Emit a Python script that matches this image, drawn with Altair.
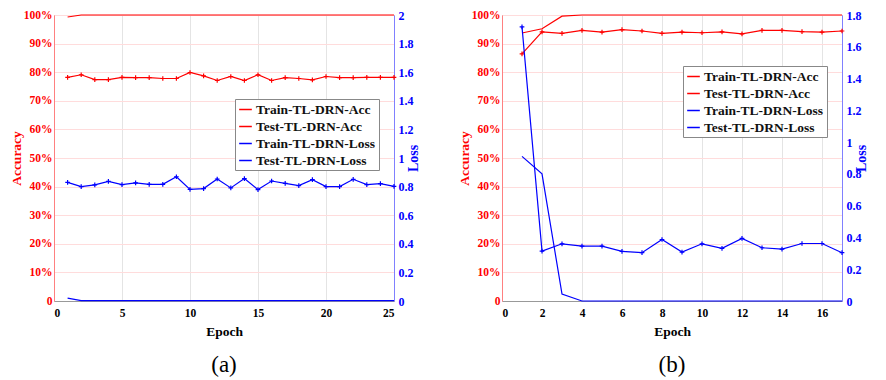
import altair as alt
import pandas as pd

SERIES = ["Train-TL-DRN-Acc", "Test-TL-DRN-Acc", "Train-TL-DRN-Loss", "Test-TL-DRN-Loss"]
COLORS = ["#ff0000", "#ff0000", "#0000ff", "#0000ff"]

# ---------- panel (a) ----------
epochs_a = [1, 2, 3, 4, 5, 6, 7, 8, 9, 10, 11, 12, 13, 14, 15, 16, 17, 18, 19, 20, 21, 22, 23, 24, 25]
train_acc_a = [99.3, 100, 100, 100, 100, 100, 100, 100, 100, 100, 100, 100, 100,
               100, 100, 100, 100, 100, 100, 100, 100, 100, 100, 100, 100]
test_acc_a = [78.2, 79.1, 77.4, 77.4, 78.2, 78.1, 78.1, 77.8, 77.8, 79.9, 78.7, 77.1, 78.5,
              77.1, 79.1, 77.1, 78.1, 77.8, 77.3, 78.5, 78.1, 78.1, 78.2, 78.2, 78.2]
train_loss_a = [0.02, 0.002, 0.002, 0.002, 0.002, 0.002, 0.002, 0.002, 0.002, 0.002, 0.002, 0.002, 0.002,
                0.002, 0.002, 0.002, 0.002, 0.002, 0.002, 0.002, 0.002, 0.002, 0.002, 0.002, 0.002]
test_loss_a = [0.830, 0.800, 0.812, 0.837, 0.814, 0.826, 0.816, 0.816, 0.869, 0.781, 0.786, 0.853, 0.791,
               0.856, 0.779, 0.839, 0.823, 0.807, 0.849, 0.800, 0.800, 0.851, 0.814, 0.821, 0.802]

# ---------- panel (b) ----------
epochs_b = [1, 2, 3, 4, 5, 6, 7, 8, 9, 10, 11, 12, 13, 14, 15, 16, 17]
train_acc_b = [93.7, 95.2, 99.6, 100, 100, 100, 100, 100, 100, 100, 100, 100, 100, 100, 100, 100, 100]
test_acc_b = [86.4, 94.1, 93.6, 94.6, 94.0, 94.9, 94.4, 93.6, 94.0, 93.8, 94.1, 93.4, 94.6, 94.6, 94.2, 94.0, 94.4]
train_loss_b = [0.91, 0.80, 0.044, 0.0, 0.0, 0.0, 0.0, 0.0, 0.0, 0.0, 0.0, 0.0, 0.0, 0.0, 0.0, 0.0, 0.0]
test_loss_b = [1.725, 0.314, 0.36, 0.345, 0.345, 0.312, 0.304, 0.387, 0.308, 0.36, 0.331, 0.394, 0.335,
               0.327, 0.362, 0.362, 0.304]

xticks_a = [0, 5, 10, 15, 20, 25]
xticks_b = [0, 2, 4, 6, 8, 10, 12, 14, 16]
acc_ticks = [0, 10, 20, 30, 40, 50, 60, 70, 80, 90, 100]
loss_ticks_a = [0, 0.2, 0.4, 0.6, 0.8, 1.0, 1.2, 1.4, 1.6, 1.8, 2.0]
loss_ticks_b = [0, 0.2, 0.4, 0.6, 0.8, 1.0, 1.2, 1.4, 1.6, 1.8]

FONT = "Liberation Serif"
PLUS = "M-1,0H1M0,-1V1"


def long_df(epochs, train, test, names):
    rows = []
    for e, v in zip(epochs, train):
        rows.append({"epoch": e, "value": v, "series": names[0]})
    for e, v in zip(epochs, test):
        rows.append({"epoch": e, "value": v, "series": names[1]})
    return pd.DataFrame(rows)


def panel(epochs, tr_acc, te_acc, tr_loss, te_loss, xmax, xticks, loss_max, loss_ticks,
          leg_x, leg_y, caption):
    acc_df = long_df(epochs, tr_acc, te_acc, SERIES[:2])
    loss_df = long_df(epochs, tr_loss, te_loss, SERIES[2:])
    acc_test = acc_df[acc_df.series == SERIES[1]]
    loss_test = loss_df[loss_df.series == SERIES[3]]

    x = alt.X("epoch:Q", scale=alt.Scale(domain=[0, xmax], nice=False, zero=True),
              axis=alt.Axis(values=xticks, title="Epoch", grid=True, gridColor="#e4e4e4",
                            domainColor="#999999", ticks=False, labelPadding=6,
                            labelColor="black", titleColor="black", titleFontSize=13.5,
                            titlePadding=6))
    y_acc = alt.Y("value:Q", scale=alt.Scale(domain=[0, 100], nice=False),
                  axis=alt.Axis(values=acc_ticks, title="Accuracy", orient="left", grid=True,
                                gridColor="#ffdcdc", domainColor="#ff8080", ticks=False,
                                labelColor="#ff0000", titleColor="#ff0000", labelPadding=2,
                                labelExpr="datum.value == 0 ? '0' : datum.value + '%'",
                                titlePadding=0, titleFontSize=13.5))
    y_loss = alt.Y("value:Q", scale=alt.Scale(domain=[0, loss_max], nice=False),
                   axis=alt.Axis(values=loss_ticks, title="Loss", orient="right", grid=False,
                                 domainColor="#8080ff", ticks=False, labelColor="#0000ff",
                                 titleColor="#0000ff", labelPadding=4, titleAngle=270,
                                 labelExpr="'' + round(datum.value * 10) / 10",
                                 titlePadding=7, labelFontSize=12))
    color = alt.Color("series:N", scale=alt.Scale(domain=SERIES, range=COLORS),
                      legend=alt.Legend(title=None, orient="none", legendX=leg_x, legendY=leg_y,
                                        fillColor="white", strokeColor="#888888", padding=3,
                                        symbolType="stroke", symbolSize=160, symbolStrokeWidth=1.5,
                                        labelFont=FONT, labelFontWeight="bold", labelFontSize=13.5,
                                        labelColor="#111111", rowPadding=3, labelOffset=3,
                                        labelLimit=300))

    acc_lines = alt.Chart(acc_df).mark_line(strokeWidth=1.2).encode(x=x, y=y_acc, color=color)
    acc_pts = alt.Chart(acc_test).mark_point(shape=PLUS, filled=False, size=22, strokeWidth=1.2,
                                             color="#ff0000", opacity=1).encode(x=x, y=y_acc)
    loss_lines = alt.Chart(loss_df).mark_line(strokeWidth=1.2).encode(x=x, y=y_loss, color=color)
    loss_pts = alt.Chart(loss_test).mark_point(shape=PLUS, filled=False, size=22, strokeWidth=1.2,
                                               color="#0000ff", opacity=1).encode(x=x, y=y_loss)

    acc = alt.layer(acc_lines, acc_pts)
    loss = alt.layer(loss_lines, loss_pts)
    return alt.layer(acc, loss).resolve_scale(y="independent").properties(
        width=340, height=286,
        title=alt.TitleParams(caption, orient="bottom", font=FONT, fontSize=23,
                              fontWeight="normal", color="black", offset=16))


pa = panel(epochs_a, train_acc_a, test_acc_a, train_loss_a, test_loss_a, 25, xticks_a, 2.0,
           loss_ticks_a, 181, 84, "(a)")
pb = panel(epochs_b, train_acc_b, test_acc_b, train_loss_b, test_loss_b, 17, xticks_b, 1.8,
           loss_ticks_b, 181, 51, "(b)")

chart = alt.hconcat(pa, pb, spacing=108, bounds="flush").resolve_scale(color="independent").resolve_legend(
    color="independent"
).configure_view(stroke="#999999").configure_axis(
    labelFont=FONT, labelFontWeight="bold", labelFontSize=11.5,
    titleFont=FONT, titleFontWeight="bold", titleFontSize=14
).properties(padding={"left": 0, "top": 0, "right": 0, "bottom": 0})

chart.save("out.html", embed_options={"renderer": "svg", "actions": False})
